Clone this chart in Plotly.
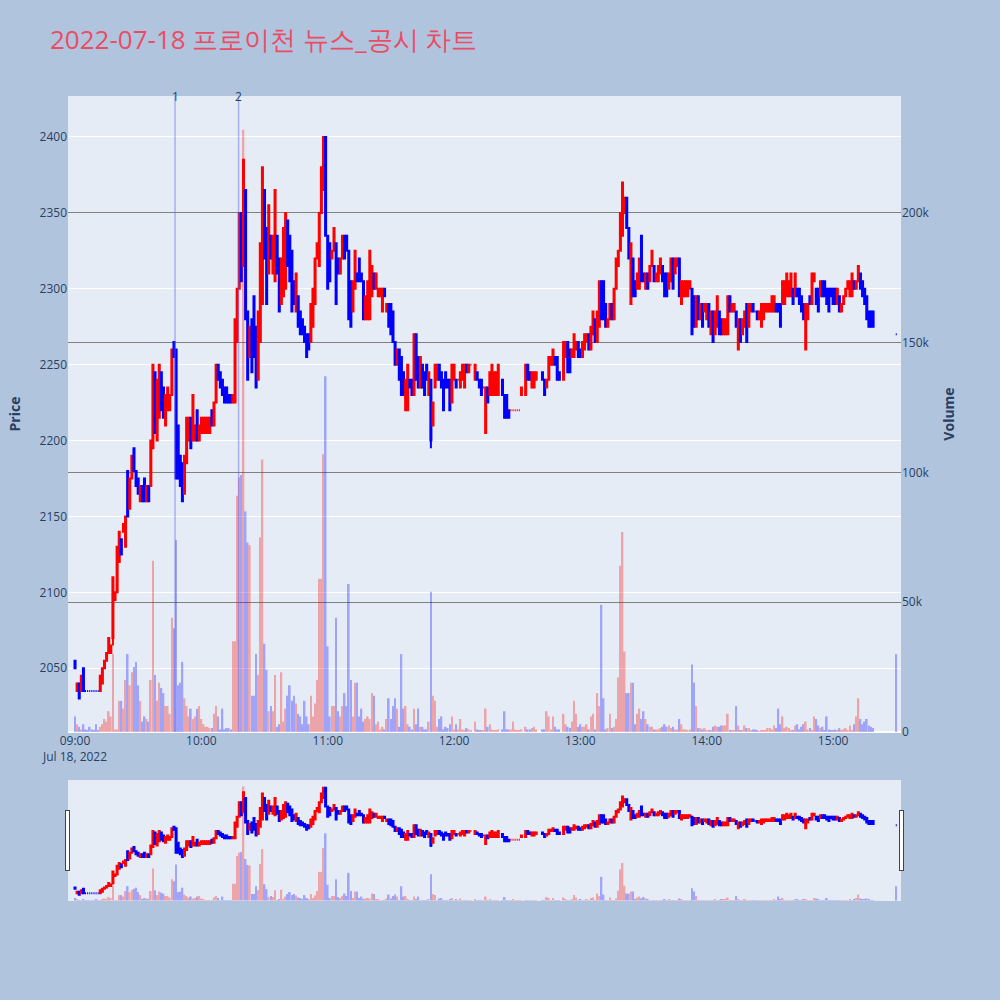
import pandas as pd
import plotly.graph_objects as go
from plotly.subplots import make_subplots

N = None
start_time = "2022-07-18 09:00"
n_minutes = 391

open_ = [
    2055, 2035, 2040, 2035, 2050, 2035, 2035, 2035, 2035, 2035,
    2035, 2035, 2035, 2040, 2050, 2055, 2060, 2060, 2070, 2095,
    2100, 2120, 2135, 2140, 2130, 2180, 2155, 2175, 2195, 2180,
    2175, 2160, 2170, 2175, 2160, 2170, 2170, 2195, 2245, 2200,
    2215, 2245, 2235, 2210, 2220, 2220, 2230, 2265, 2260, 2210,
    2190, 2185, 2165, 2185, 2200, 2215, 2200, 2200, 2220, 2200,
    2205, 2205, 2205, 2205, 2205, 2220, 2210, 2225, 2250, 2245,
    2240, 2235, 2235, 2230, 2230, 2225, 2225, 2265, 2300, 2350,
    2315, 2365, 2285, 2255, 2280, 2295, 2275, 2240, 2265, 2290,
    2365, 2340, 2310, 2335, 2310, 2305, 2335, 2320, 2290, 2295,
    2300, 2345, 2335, 2325, 2305, 2285, 2295, 2285, 2280, 2275,
    2270, 2270, 2265, 2275, 2290, 2320, 2315, 2350, 2365, 2400,
    2335, 2330, 2320, 2325, 2330, 2320, 2310, 2320, 2335, 2335,
    2325, 2305, 2285, 2300, 2310, 2320, 2310, 2305, 2280, 2280,
    2280, 2295, 2310, 2300, 2295, 2295, 2285, 2300, 2285, 2290,
    2290, 2285, 2265, 2250, 2260, 2255, 2245, 2220, 2220, 2240,
    2240, 2230, 2270, 2255, 2235, 2250, 2245, 2250, 2230, 2240,
    2210, 2235, 2240, 2250, 2245, 2240, 2245, 2240, 2240, 2225,
    2240, 2240, 2240, 2235, 2240, 2235, 2250, 2245, 2250, N,
    2240, 2245, 2240, 2240, 2235, 2205, 2235, 2230, 2230, 2230,
    2230, 2230, N, 2240, 2230, 2230, 2220, 2220, 2220, 2220,
    2220, 2220, 2230, N, 2230, 2250, 2245, 2235, 2235, 2240,
    N, N, 2245, 2240, 2235, 2240, 2250, 2250, 2255, 2255,
    2245, N, 2240, 2255, 2265, 2260, 2255, 2255, 2260, 2265,
    2260, 2255, 2260, 2265, 2270, 2260, 2270, 2280, 2265, 2275,
    2305, 2305, 2290, 2275, 2280, 2290, 2280, 2300, 2315, 2325,
    2335, 2350, 2360, 2340, 2290, 2320, 2305, 2300, 2300, 2335,
    2310, 2300, 2310, 2305, 2315, 2315, 2305, 2305, 2310, 2315,
    2310, 2310, 2300, 2305, 2320, 2310, 2315, 2320, 2290, 2295,
    2295, 2295, 2300, 2300, 2295, 2275, 2295, 2280, 2290, 2285,
    2280, 2290, 2270, 2285, 2270, 2275, 2285, 2280, 2270, 2270,
    2270, 2295, 2285, 2285, 2285, 2260, 2280, 2270, 2275, 2290,
    2275, 2285, 2290, 2285, 2285, 2280, 2275, 2280, 2285, 2285,
    2285, 2285, 2285, 2290, 2290, 2290, 2290, 2290, 2295, 2295,
    2295, 2300, 2295, 2300, 2300, 2295, 2290, 2260, 2280, 2295,
    2290, 2305, 2300, 2300, 2295, 2305, 2305, 2300, 2300, 2300,
    2300, 2300, 2290, 2295, 2285, 2290, 2295, 2300, 2295, 2295,
    2305, 2300, 2305, 2310, 2305, 2300, 2295, 2285, 2285, 2285,
    N, N, N, N, N, N, N, N, N, N,
    2270,
]

high = [
    2055, 2040, 2040, 2045, 2050, 2035, 2035, 2035, 2035, 2035,
    2035, 2035, 2045, 2050, 2055, 2060, 2070, 2065, 2110, 2100,
    2130, 2140, 2135, 2145, 2150, 2180, 2175, 2190, 2195, 2180,
    2175, 2170, 2170, 2175, 2170, 2170, 2200, 2250, 2245, 2240,
    2250, 2245, 2235, 2230, 2235, 2230, 2260, 2265, 2260, 2210,
    2190, 2185, 2190, 2215, 2215, 2215, 2230, 2210, 2220, 2210,
    2215, 2215, 2215, 2215, 2215, 2220, 2225, 2250, 2250, 2245,
    2240, 2235, 2235, 2230, 2230, 2230, 2280, 2300, 2350, 2350,
    2385, 2365, 2285, 2275, 2280, 2295, 2275, 2285, 2330, 2380,
    2365, 2340, 2355, 2335, 2335, 2365, 2335, 2320, 2320, 2340,
    2350, 2345, 2335, 2325, 2305, 2310, 2295, 2285, 2280, 2275,
    2270, 2270, 2290, 2300, 2320, 2330, 2350, 2380, 2400, 2400,
    2335, 2330, 2325, 2340, 2330, 2320, 2320, 2335, 2335, 2335,
    2325, 2305, 2305, 2325, 2310, 2320, 2310, 2305, 2295, 2305,
    2325, 2315, 2310, 2310, 2300, 2300, 2300, 2300, 2290, 2290,
    2290, 2285, 2265, 2260, 2260, 2255, 2245, 2240, 2250, 2240,
    2240, 2270, 2270, 2255, 2255, 2250, 2245, 2250, 2245, 2240,
    2225, 2250, 2250, 2250, 2245, 2240, 2245, 2240, 2240, 2250,
    2250, 2240, 2240, 2245, 2250, 2250, 2250, 2250, 2250, N,
    2250, 2245, 2240, 2240, 2235, 2235, 2235, 2245, 2250, 2245,
    2245, 2250, N, 2240, 2230, 2230, 2220, 2220, 2220, 2220,
    2220, 2220, 2235, N, 2250, 2250, 2245, 2245, 2245, 2245,
    N, N, 2245, 2240, 2240, 2255, 2255, 2260, 2255, 2255,
    2245, N, 2265, 2265, 2265, 2260, 2260, 2270, 2265, 2265,
    2260, 2265, 2270, 2270, 2270, 2275, 2285, 2280, 2285, 2305,
    2305, 2305, 2290, 2280, 2290, 2290, 2300, 2320, 2325, 2350,
    2370, 2360, 2360, 2340, 2330, 2320, 2305, 2310, 2320, 2335,
    2310, 2310, 2310, 2315, 2325, 2315, 2310, 2315, 2320, 2315,
    2310, 2310, 2310, 2320, 2320, 2320, 2320, 2320, 2305, 2305,
    2305, 2305, 2305, 2300, 2295, 2295, 2295, 2290, 2290, 2290,
    2290, 2290, 2285, 2285, 2285, 2295, 2285, 2280, 2280, 2280,
    2295, 2295, 2290, 2290, 2285, 2280, 2280, 2280, 2285, 2290,
    2290, 2290, 2290, 2285, 2285, 2285, 2290, 2290, 2290, 2290,
    2290, 2295, 2295, 2290, 2290, 2290, 2305, 2305, 2310, 2305,
    2310, 2300, 2310, 2300, 2300, 2295, 2290, 2290, 2290, 2295,
    2310, 2310, 2300, 2300, 2305, 2305, 2305, 2300, 2300, 2300,
    2300, 2300, 2300, 2295, 2290, 2295, 2300, 2305, 2305, 2310,
    2305, 2305, 2315, 2310, 2305, 2300, 2295, 2285, 2285, 2285,
    N, N, N, N, N, N, N, N, N, N,
    2270,
]

low = [
    2050, 2035, 2030, 2035, 2035, 2035, 2035, 2035, 2035, 2035,
    2035, 2035, 2035, 2040, 2050, 2055, 2060, 2060, 2065, 2095,
    2100, 2120, 2125, 2140, 2130, 2150, 2155, 2175, 2180, 2170,
    2165, 2160, 2160, 2160, 2160, 2160, 2170, 2195, 2205, 2200,
    2215, 2220, 2215, 2210, 2220, 2220, 2230, 2255, 2175, 2175,
    2170, 2160, 2165, 2185, 2200, 2195, 2200, 2200, 2200, 2200,
    2205, 2205, 2205, 2205, 2205, 2210, 2210, 2225, 2240, 2235,
    2230, 2225, 2225, 2225, 2225, 2225, 2225, 2265, 2300, 2305,
    2315, 2280, 2240, 2255, 2245, 2255, 2235, 2240, 2265, 2290,
    2320, 2290, 2310, 2320, 2310, 2305, 2310, 2285, 2290, 2295,
    2300, 2315, 2305, 2285, 2290, 2285, 2275, 2270, 2270, 2265,
    2255, 2260, 2265, 2275, 2290, 2320, 2315, 2350, 2365, 2335,
    2300, 2305, 2320, 2325, 2290, 2310, 2310, 2320, 2320, 2325,
    2280, 2275, 2285, 2300, 2305, 2305, 2305, 2280, 2280, 2280,
    2280, 2295, 2300, 2300, 2295, 2295, 2285, 2295, 2285, 2275,
    2270, 2265, 2250, 2250, 2240, 2230, 2230, 2220, 2220, 2235,
    2230, 2230, 2240, 2235, 2235, 2235, 2230, 2240, 2230, 2195,
    2210, 2235, 2240, 2240, 2235, 2220, 2235, 2235, 2220, 2225,
    2240, 2235, 2240, 2235, 2240, 2235, 2245, 2245, 2250, N,
    2240, 2240, 2235, 2230, 2235, 2205, 2225, 2230, 2230, 2230,
    2230, 2230, N, 2230, 2215, 2215, 2215, 2220, 2220, 2220,
    2220, 2220, 2230, N, 2230, 2240, 2240, 2235, 2235, 2240,
    N, N, 2240, 2230, 2235, 2240, 2250, 2250, 2250, 2240,
    2240, N, 2240, 2255, 2245, 2245, 2255, 2255, 2260, 2255,
    2255, 2255, 2260, 2265, 2260, 2260, 2270, 2265, 2265, 2275,
    2280, 2280, 2275, 2275, 2280, 2280, 2280, 2300, 2315, 2325,
    2335, 2350, 2340, 2320, 2290, 2295, 2295, 2300, 2300, 2305,
    2305, 2300, 2300, 2305, 2315, 2305, 2305, 2305, 2310, 2305,
    2295, 2295, 2300, 2305, 2300, 2310, 2315, 2295, 2290, 2295,
    2295, 2295, 2300, 2270, 2275, 2275, 2280, 2280, 2275, 2285,
    2280, 2275, 2270, 2265, 2270, 2275, 2270, 2270, 2270, 2270,
    2270, 2285, 2285, 2285, 2275, 2260, 2265, 2270, 2275, 2265,
    2275, 2285, 2285, 2285, 2280, 2280, 2275, 2280, 2285, 2285,
    2285, 2285, 2285, 2285, 2285, 2275, 2290, 2290, 2295, 2295,
    2295, 2290, 2295, 2295, 2290, 2285, 2280, 2260, 2280, 2290,
    2290, 2305, 2290, 2285, 2295, 2295, 2295, 2290, 2285, 2295,
    2290, 2290, 2290, 2285, 2285, 2290, 2295, 2300, 2295, 2295,
    2300, 2300, 2305, 2300, 2295, 2290, 2280, 2275, 2275, 2275,
    N, N, N, N, N, N, N, N, N, N,
    2270,
]

close = [
    2050, 2040, 2030, 2045, 2035, 2035, 2035, 2035, 2035, 2035,
    2035, 2035, 2045, 2050, 2055, 2060, 2070, 2065, 2110, 2100,
    2130, 2140, 2125, 2145, 2150, 2150, 2175, 2190, 2180, 2170,
    2165, 2170, 2160, 2160, 2170, 2160, 2200, 2250, 2205, 2240,
    2250, 2220, 2215, 2230, 2235, 2230, 2260, 2255, 2175, 2175,
    2170, 2160, 2190, 2215, 2215, 2195, 2230, 2210, 2200, 2210,
    2215, 2215, 2215, 2215, 2215, 2210, 2225, 2250, 2240, 2235,
    2230, 2225, 2225, 2225, 2225, 2230, 2280, 2300, 2350, 2305,
    2385, 2280, 2240, 2275, 2245, 2255, 2235, 2285, 2330, 2380,
    2320, 2290, 2355, 2320, 2335, 2365, 2310, 2285, 2320, 2340,
    2350, 2315, 2305, 2285, 2290, 2310, 2275, 2270, 2270, 2265,
    2255, 2260, 2290, 2300, 2320, 2330, 2350, 2380, 2400, 2335,
    2300, 2305, 2325, 2340, 2290, 2310, 2320, 2335, 2320, 2325,
    2280, 2275, 2305, 2325, 2305, 2305, 2305, 2280, 2295, 2305,
    2325, 2315, 2300, 2310, 2300, 2300, 2300, 2295, 2290, 2275,
    2270, 2265, 2250, 2260, 2240, 2230, 2230, 2240, 2250, 2235,
    2230, 2270, 2240, 2235, 2255, 2235, 2230, 2240, 2245, 2200,
    2225, 2250, 2250, 2240, 2235, 2220, 2235, 2235, 2220, 2250,
    2250, 2235, 2240, 2245, 2250, 2250, 2245, 2250, 2250, N,
    2250, 2240, 2235, 2230, 2235, 2235, 2225, 2245, 2250, 2245,
    2245, 2250, N, 2230, 2215, 2215, 2215, 2220, 2220, 2220,
    2220, 2220, 2235, N, 2250, 2240, 2240, 2245, 2245, 2245,
    N, N, 2240, 2230, 2240, 2255, 2255, 2260, 2250, 2240,
    2240, N, 2265, 2265, 2245, 2245, 2260, 2270, 2265, 2255,
    2255, 2265, 2270, 2270, 2260, 2275, 2285, 2265, 2285, 2305,
    2280, 2280, 2275, 2280, 2290, 2280, 2300, 2320, 2325, 2350,
    2370, 2360, 2340, 2320, 2330, 2295, 2295, 2310, 2320, 2305,
    2305, 2310, 2300, 2315, 2325, 2305, 2310, 2315, 2320, 2305,
    2295, 2295, 2310, 2320, 2300, 2320, 2320, 2295, 2305, 2305,
    2305, 2305, 2305, 2270, 2275, 2295, 2280, 2290, 2275, 2290,
    2290, 2275, 2285, 2265, 2285, 2295, 2270, 2270, 2280, 2280,
    2295, 2285, 2290, 2290, 2275, 2280, 2265, 2280, 2285, 2265,
    2290, 2290, 2285, 2285, 2280, 2285, 2290, 2290, 2290, 2290,
    2290, 2295, 2295, 2285, 2285, 2275, 2305, 2305, 2310, 2305,
    2310, 2290, 2310, 2295, 2290, 2285, 2280, 2290, 2290, 2290,
    2310, 2310, 2290, 2285, 2305, 2295, 2295, 2290, 2285, 2295,
    2290, 2290, 2300, 2285, 2290, 2295, 2300, 2305, 2305, 2310,
    2300, 2305, 2315, 2300, 2295, 2290, 2280, 2275, 2275, 2275,
    N, N, N, N, N, N, N, N, N, N,
    2270,
]

volume = [
    6000, 3000, 2000, 1000, 3000, 1000, 500, 2000, 1000, 500,
    3000, 500, 2000, 3000, 5000, 4000, 8000, 6000, 30000, 1000,
    1000, 12000, 12000, 9000, 20000, 30000, 18000, 23000, 25000, 27000,
    18000, 12000, 4000, 6000, 5000, 4000, 20000, 66000, 22000, 12000,
    19000, 17000, 15000, 10000, 10000, 7000, 44000, 40000, 74000, 18000,
    19000, 27000, 13000, 10000, 6000, 9000, 5000, 6000, 9000, 10000,
    5000, 3000, 2000, 2000, 1500, 1500, 7000, 10000, 6000, 1000,
    9000, 1000, 1500, 1500, 1000, 35000, 35000, 91000, 98000, 99000,
    232000, 85000, 73000, 72000, 14000, 14000, 30000, 22000, 75000, 105000,
    34000, 24000, 8000, 10000, 8000, 22000, 2000, 3000, 23000, 4000,
    9000, 14000, 18000, 12000, 14000, 11000, 7000, 6000, 3000, 12000,
    6000, 3000, 14000, 6000, 11000, 20000, 59000, 59000, 107000, 137000,
    33000, 6000, 10000, 10000, 44000, 8000, 6000, 10000, 15000, 10000,
    57000, 20000, 6000, 19000, 19000, 6000, 9000, 4000, 5000, 6000,
    5000, 15000, 14000, 3000, 4000, 1000, 2000, 1000, 5000, 13000,
    5000, 10000, 13000, 9000, 2000, 30000, 9000, 10000, 3000, 2000,
    1000, 9000, 3000, 9000, 2000, 2000, 1000, 1000, 4000, 54000,
    14000, 12000, 2000, 5000, 6000, 1000, 2000, 1500, 3000, 6000,
    1000, 3000, 1000, 5000, 1000, 500, 1500, 1000, 500, N,
    4000, 1000, 500, 500, 500, 9000, 2000, 3000, 1000, 500,
    500, 1000, N, 1000, 8000, 1000, 1000, 1000, 4000, 1000,
    500, 500, 1000, N, 2000, 1000, 1000, 1500, 2000, 1000,
    N, N, 1000, 1000, 8000, 6000, 1000, 6000, 2000, 1000,
    1000, N, 7000, 3000, 2000, 1500, 4000, 12000, 7000, 2000,
    3000, 2000, 2000, 3000, 1000, 6000, 7000, 1000, 15000, 10000,
    49000, 13000, 1000, 1500, 7000, 1500, 2000, 5000, 21000, 64000,
    77000, 31000, 15000, 15000, 19000, 19000, 3000, 7000, 9000, 5000,
    8000, 5000, 3000, 2000, 2000, 1000, 1000, 1000, 1500, 2000,
    3000, 2000, 2500, 1500, 2000, 1000, 1000, 5000, 3000, 1000,
    1000, 500, 1000, 26000, 19000, 10000, 1500, 1500, 1000, 1500,
    500, 500, 500, 2000, 2500, 2000, 2000, 2500, 2500, 2500,
    7000, 500, 500, 500, 10000, 2500, 500, 500, 2500, 1500,
    1500, 500, 1000, 1000, 500, 300, 500, 500, 500, 1500,
    1500, 1000, 2500, 1500, 9000, 3000, 6000, 1500, 2000, 1500,
    500, 500, 2500, 3000, 1000, 2000, 3000, 4000, 1000, 1500,
    500, 6000, 5000, 2500, 1500, 2000, 500, 6000, 1000, 500,
    500, 1000, 500, 1500, 500, 1000, 1500, 500, 2500, 500,
    3000, 6000, 13000, 5000, 3000, 4000, 5000, 2500, 2000, 1500,
    N, N, N, N, N, N, N, N, N, N,
    30000,
]

news_times = ["2022-07-18 09:47:30", "2022-07-18 10:17:40"]
news_labels = ["1", "2"]

title_text = "2022-07-18 프로이천 뉴스_공시 차트"
x_range = ["2022-07-18 08:56:40", "2022-07-18 15:32:15"]
price_range = [2008, 2427]
volume_range = [0, 245000]

times = pd.date_range(start_time, periods=n_minutes, freq="min")

# candle direction (plotly rule: equal open/close follows previous close / previous direction)
vol_colors = []
prev_c = None
prev_inc = True
for o, c in zip(open_, close):
    if o is None:
        vol_colors.append("blue")
        continue
    if c > o:
        inc = True
    elif c < o:
        inc = False
    else:
        if prev_c is not None and c > prev_c:
            inc = True
        elif prev_c is not None and c < prev_c:
            inc = False
        else:
            inc = prev_inc
    prev_inc = inc
    prev_c = c
    vol_colors.append("red" if inc else "blue")

fig = make_subplots(specs=[[{"secondary_y": True}]])

fig.add_trace(
    go.Candlestick(
        x=times, open=open_, high=high, low=low, close=close,
        increasing=dict(line=dict(color="red"), fillcolor="red"),
        decreasing=dict(line=dict(color="blue"), fillcolor="blue"),
        name="Price",
    ),
    secondary_y=False,
)
fig.add_trace(
    go.Bar(x=times, y=volume, marker=dict(color=vol_colors, line=dict(width=0)),
           opacity=0.3, name="Volume"),
    secondary_y=True,
)

for t, lab in zip(news_times, news_labels):
    fig.add_shape(type="line", x0=t, x1=t, y0=0, y1=1, xref="x", yref="paper",
                  line=dict(color="rgba(90,100,235,0.45)", width=1.5))
    fig.add_annotation(x=t, y=1, xref="x", yref="paper", text=lab, showarrow=False,
                       xanchor="center", yanchor="middle",
                       font=dict(size=12, color="#2a3f5f"))

fig.update_layout(
    width=1000,
    height=1000,
    autosize=False,
    title=dict(text=title_text, font=dict(size=26, color="#EA4C66"),
               x=0.05, xanchor="left", y=0.96, yanchor="middle"),
    paper_bgcolor="lightsteelblue",
    showlegend=False,
    margin=dict(l=68, r=99, t=96, b=100),
    bargap=0.2,
)
fig.update_xaxes(range=x_range, automargin=False, domain=[0, 1],
                 rangeslider=dict(visible=True, range=x_range))
fig.update_yaxes(title_text="<b>Price</b>", range=price_range, automargin=False,
                 secondary_y=False)
fig.update_yaxes(title_text="<b>Volume</b>", range=volume_range, showgrid=True,
                 gridcolor="gray", automargin=False, secondary_y=True)

fig.write_html(
    "out.html",
    config={"displayModeBar": False},
    post_script="document.body.style.margin='0';document.body.style.overflow='hidden';",
)
